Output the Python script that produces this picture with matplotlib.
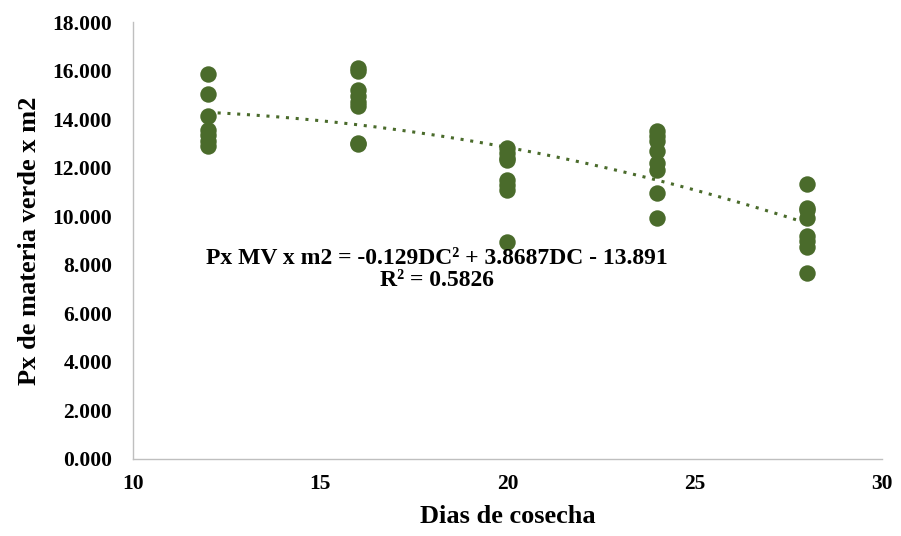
import numpy as np
import matplotlib
matplotlib.use('Agg')
import matplotlib.pyplot as plt

# dias de cosecha y produccion (Px x m2)
dias = [12, 16, 20, 24, 28]
px_12 = [15.85, 15.05, 14.15, 13.55, 13.35, 13.10, 12.90]
px_16 = [16.12, 15.97, 15.20, 14.95, 14.70, 14.55, 13.02, 12.98]
px_20 = [12.80, 12.60, 12.40, 12.30, 11.50, 11.30, 11.10, 8.92]
px_24 = [13.52, 13.30, 13.10, 12.70, 12.20, 11.90, 10.98, 9.95]
px_28 = [11.35, 10.35, 10.25, 9.92, 9.20, 9.00, 8.75, 7.65]

y_ticks = [0, 2, 4, 6, 8, 10, 12, 14, 16, 18]
x_ticks = [10, 15, 20, 25, 30]

ecuacion = 'Px MV x m2 = -0.129DC² + 3.8687DC - 13.891\nR² = 0.5826'

plt.rcParams['font.family'] = ['Liberation Serif', 'DejaVu Serif']
plt.rcParams['font.weight'] = 'bold'

verde = '#4A6B2B'

fig = plt.figure(figsize=(9.01, 5.36), dpi=100)
ax = fig.add_axes([0.1476, 0.1437, 0.8313, 0.815])

xs, ys = [], []
for d, vals in zip(dias, [px_12, px_16, px_20, px_24, px_28]):
    xs += [d] * len(vals)
    ys += vals
ax.scatter(xs, ys, s=140, color=verde, zorder=3, linewidths=0)

# linea de tendencia polinomica (orden 2)
coef = np.polyfit(xs, ys, 2)
xt = np.linspace(min(dias), max(dias), 200)
ax.plot(xt, np.polyval(coef, xt), linestyle=(0, (1, 2.2)), color=verde, linewidth=2.2, zorder=2)

ax.text(18.12, 7.8, ecuacion, ha='center', va='center', multialignment='center',
        fontsize=17, fontweight='bold', linespacing=1.1)

ax.set_xlim(10, 30)
ax.set_ylim(0, 18)
ax.set_xticks(x_ticks)
ax.set_yticks(y_ticks)
ax.set_yticklabels(['%.3f' % v for v in y_ticks])
ax.tick_params(length=0, labelsize=15.5)
ax.tick_params(axis='y', pad=15)
ax.tick_params(axis='x', pad=11)
for lab in ax.get_xticklabels() + ax.get_yticklabels():
    lab.set_fontweight('bold')

for s in ['top', 'right']:
    ax.spines[s].set_visible(False)
for s in ['left', 'bottom']:
    ax.spines[s].set_color('#BFBFBF')
    ax.spines[s].set_linewidth(1)

ax.set_xlabel('Dias de cosecha', fontsize=19, fontweight='bold')
ax.xaxis.set_label_coords(0.5, (459 - 517) / 437, transform=ax.transAxes)
ax.set_ylabel('Px de materia verde x m2', fontsize=19, fontweight='bold')
ax.yaxis.set_label_coords((30 - 133) / 749, 0.5, transform=ax.transAxes)
ax.xaxis.label.set_va('center')
ax.yaxis.label.set_va('center')

fig.savefig('out.png', dpi=100)
